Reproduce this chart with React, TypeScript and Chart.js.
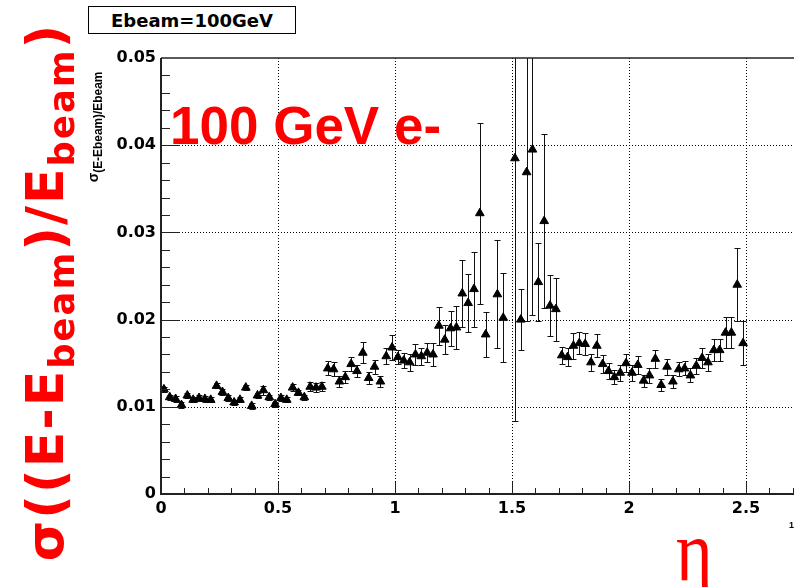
import React, { useEffect, useRef } from 'react';
import { Chart, registerables } from 'chart.js';

Chart.register(...registerables);

// eta bin centres
const ETA: number[] = [
  0.0125, 0.0375, 0.0625, 0.0875, 0.1125, 0.1375, 0.1625, 0.1875, 0.2125, 0.2375,
  0.2625, 0.2875, 0.3125, 0.3375, 0.3625, 0.3875, 0.4125, 0.4375, 0.4625, 0.4875,
  0.5125, 0.5375, 0.5625, 0.5875, 0.6125, 0.6375, 0.6625, 0.6875, 0.7125, 0.7375,
  0.7625, 0.7875, 0.8125, 0.8375, 0.8625, 0.8875, 0.9125, 0.9375, 0.9625, 0.9875,
  1.0125, 1.0375, 1.0625, 1.0875, 1.1125, 1.1375, 1.1625, 1.1875, 1.2125, 1.2375,
  1.2625, 1.2875, 1.3125, 1.3375, 1.3625, 1.3875, 1.4125, 1.4375, 1.4625, 1.4875,
  1.5125, 1.5375, 1.5625, 1.5875, 1.6125, 1.6375, 1.6625, 1.6875, 1.7125, 1.7375,
  1.7625, 1.7875, 1.8125, 1.8375, 1.8625, 1.8875, 1.9125, 1.9375, 1.9625, 1.9875,
  2.0125, 2.0375, 2.0625, 2.0875, 2.1125, 2.1375, 2.1625, 2.1875, 2.2125, 2.2375,
  2.2625, 2.2875, 2.3125, 2.3375, 2.3625, 2.3875, 2.4125, 2.4375, 2.4625, 2.4875,
];

// sigma(E-Ebeam)/Ebeam per bin (null = empty bin)
const SIGMA: (number | null)[] = [
  0.0120, 0.0111, 0.0109, 0.0102, 0.0113, 0.0108, 0.0110, 0.0109, 0.0108, 0.0124,
  0.0117, 0.0110, 0.0105, 0.0108, 0.0122, 0.0101, 0.0113, 0.0119, 0.0111, 0.0103,
  0.0110, 0.0108, 0.0122, 0.0116, 0.0111, 0.0123, 0.0122, 0.0123, 0.0144, 0.0143,
  0.0129, 0.0134, 0.0149, 0.0141, 0.0162, 0.0133, 0.0146, 0.0129, 0.0158, 0.0168,
  0.0157, 0.0153, 0.0151, 0.0160, 0.0158, 0.0162, 0.0160, 0.0193, 0.0177, 0.0190,
  0.0191, 0.0230, 0.0219, 0.0235, 0.0322, 0.0183, null, 0.0229, 0.0202, null,
  0.0385, 0.0200, 0.0369, 0.0395, 0.0243, 0.0313, 0.0216, 0.0212, 0.0159, 0.0157,
  0.0170, 0.0173, 0.0172, 0.0151, 0.0170, 0.0149, 0.0141, 0.0134, 0.0139, 0.0150,
  0.0139, 0.0148, 0.0130, 0.0136, 0.0155, 0.0125, 0.0146, 0.0129, 0.0143, 0.0144,
  0.0136, 0.0147, 0.0156, 0.0151, 0.0165, 0.0165, 0.0185, 0.0185, 0.0240, 0.0173,
];

// statistical error on each bin
const SIGMA_ERR: (number | null)[] = [
  0.0003, 0.0003, 0.0003, 0.0003, 0.0003, 0.0003, 0.0003, 0.0003, 0.0003, 0.0003,
  0.0003, 0.0003, 0.0003, 0.0003, 0.0003, 0.0003, 0.0003, 0.0005, 0.0003, 0.0003,
  0.0003, 0.0003, 0.0004, 0.0003, 0.0003, 0.0005, 0.0005, 0.0005, 0.0008, 0.0008,
  0.0006, 0.0007, 0.0008, 0.0007, 0.0012, 0.0007, 0.0008, 0.0006, 0.0009, 0.0014,
  0.0008, 0.0009, 0.0010, 0.0012, 0.0010, 0.0011, 0.0013, 0.0022, 0.0017, 0.0020,
  0.0025, 0.0038, 0.0033, 0.0043, 0.0104, 0.0026, null, 0.0062, 0.0051, null,
  0.0301, 0.0035, 0.0171, 0.0190, 0.0045, 0.0100, 0.0035, 0.0036, 0.0010, 0.0010,
  0.0015, 0.0013, 0.0013, 0.0010, 0.0013, 0.0010, 0.0009, 0.0008, 0.0009, 0.0010,
  0.0009, 0.0010, 0.0007, 0.0009, 0.0010, 0.0007, 0.0009, 0.0008, 0.0008, 0.0008,
  0.0008, 0.0009, 0.0012, 0.0010, 0.0013, 0.0013, 0.0018, 0.0018, 0.0042, 0.0025,
];

const X_MIN = 0;
const X_MAX = 3;
const Y_MIN = 0;
const Y_MAX = 0.05;
const X_GRID = [0.5, 1, 1.5, 2, 2.5];
const Y_GRID = [0.01, 0.02, 0.03, 0.04];
const X_TICK_STEP = 0.5;
const Y_TICK_STEP = 0.01;
const X_MINOR_STEP = 0.1;
const Y_MINOR_STEP = 0.002;

const TICK_FONT = { family: '"DejaVu Sans", sans-serif', weight: 'bold' as const, size: 16 };

const rootPlugin = {
  id: 'rootStyle',
  beforeDatasetsDraw(chart: any) {
    const { ctx, chartArea: a, scales } = chart;
    const x = scales.x;
    const y = scales.y;
    ctx.save();
    // dotted grid
    ctx.strokeStyle = '#000';
    ctx.lineWidth = 1;
    ctx.setLineDash([1, 2]);
    ctx.beginPath();
    for (const v of X_GRID) {
      const px = Math.round(x.getPixelForValue(v)) + 0.5;
      ctx.moveTo(px, a.top);
      ctx.lineTo(px, a.bottom);
    }
    for (const v of Y_GRID) {
      const py = Math.round(y.getPixelForValue(v)) + 0.5;
      ctx.moveTo(a.left, py);
      ctx.lineTo(a.right, py);
    }
    ctx.stroke();
    ctx.setLineDash([]);
    // error bars
    ctx.beginPath();
    ctx.rect(a.left, a.top, a.right - a.left, a.bottom - a.top);
    ctx.clip();
    ctx.strokeStyle = '#111';
    ctx.lineWidth = 1;
    ctx.beginPath();
    for (let i = 0; i < ETA.length; i++) {
      const v = SIGMA[i];
      const e = SIGMA_ERR[i];
      if (v == null || e == null) continue;
      const px = Math.round(x.getPixelForValue(ETA[i])) + 0.5;
      const t = Math.round(y.getPixelForValue(v + e)) + 0.5;
      const b = Math.round(y.getPixelForValue(v - e)) + 0.5;
      ctx.moveTo(px, t);
      ctx.lineTo(px, b);
      ctx.moveTo(px - 3, t);
      ctx.lineTo(px + 3, t);
      ctx.moveTo(px - 3, b);
      ctx.lineTo(px + 3, b);
    }
    ctx.stroke();
    ctx.restore();
  },
  afterDatasetsDraw(chart: any) {
    const { ctx, chartArea: a, scales } = chart;
    const x = scales.x;
    const y = scales.y;
    ctx.save();
    ctx.strokeStyle = '#222';
    ctx.lineWidth = 1;
    ctx.beginPath();
    const nx = Math.round((X_MAX - X_MIN) / X_MINOR_STEP);
    for (let k = 1; k <= nx; k++) {
      const v = X_MIN + k * X_MINOR_STEP;
      const major = Math.abs(v / X_TICK_STEP - Math.round(v / X_TICK_STEP)) < 1e-6;
      const px = Math.round(x.getPixelForValue(v)) + 0.5;
      ctx.moveTo(px, a.bottom);
      ctx.lineTo(px, a.bottom - (major ? 12 : 6));
    }
    const ny = Math.round((Y_MAX - Y_MIN) / Y_MINOR_STEP);
    for (let k = 1; k < ny; k++) {
      const v = Y_MIN + k * Y_MINOR_STEP;
      const major = Math.abs(v / Y_TICK_STEP - Math.round(v / Y_TICK_STEP)) < 1e-6;
      const py = Math.round(y.getPixelForValue(v)) + 0.5;
      ctx.moveTo(a.left, py);
      ctx.lineTo(a.left + (major ? 19 : 9), py);
    }
    ctx.stroke();
    // frame
    ctx.lineWidth = 2;
    ctx.beginPath();
    ctx.moveTo(a.left, a.top);
    ctx.lineTo(a.left, a.bottom);
    ctx.lineTo(a.right, a.bottom);
    ctx.stroke();
    ctx.lineWidth = 1.5;
    ctx.beginPath();
    ctx.moveTo(a.left, a.top);
    ctx.lineTo(a.right, a.top);
    ctx.stroke();
    ctx.restore();
  },
};

export default function App() {
  const ref = useRef<HTMLCanvasElement | null>(null);

  useEffect(() => {
    if (!ref.current) return;
    const points = ETA.map((e, i) => ({ x: e, y: SIGMA[i] })).filter((p) => p.y != null);
    const chart = new Chart(ref.current, {
      type: 'scatter',
      data: {
        datasets: [
          {
            data: points as any,
            pointStyle: 'triangle',
            pointRadius: 5,
            backgroundColor: '#000',
            borderColor: '#000',
            borderWidth: 1,
            showLine: false,
          },
        ],
      },
      options: {
        animation: false,
        responsive: false,
        devicePixelRatio: 1,
        layout: { padding: { left: 0, top: 58, right: 37, bottom: 0 } },
        plugins: {
          legend: { display: false },
          tooltip: { enabled: false },
          title: { display: false },
        },
        scales: {
          x: {
            type: 'linear',
            min: X_MIN,
            max: X_MAX,
            afterFit: (s: any) => {
              s.height = 93;
            },
            grid: { display: false, drawTicks: false },
            border: { display: false },
            ticks: {
              stepSize: X_TICK_STEP,
              autoSkip: false,
              maxRotation: 0,
              padding: 5,
              color: '#000',
              font: TICK_FONT,
              callback: (v: any) => String(Number(v)),
            },
          },
          y: {
            type: 'linear',
            min: Y_MIN,
            max: Y_MAX,
            afterFit: (s: any) => {
              s.width = 161;
            },
            grid: { display: false, drawTicks: false },
            border: { display: false },
            ticks: {
              stepSize: Y_TICK_STEP,
              autoSkip: false,
              padding: 5,
              color: '#000',
              font: TICK_FONT,
              callback: (v: any) => (Number(v) === 0 ? '0' : Number(v).toFixed(2)),
            },
          },
        },
      },
      plugins: [rootPlugin],
    });
    return () => chart.destroy();
  }, []);

  const sub: React.CSSProperties = { fontSize: '0.68em', verticalAlign: '-0.32em', lineHeight: 0 };
  const smallSub: React.CSSProperties = { fontSize: '0.85em', verticalAlign: '-0.3em', lineHeight: 0 };

  return (
    <div
      style={{
        position: 'fixed',
        left: 0,
        top: 0,
        width: 794,
        height: 587,
        overflow: 'hidden',
        background: '#fff',
      }}
    >
      <canvas ref={ref} width={900} height={587} style={{ position: 'absolute', left: 0, top: 0 }} />
      <div
        style={{
          position: 'absolute',
          left: 88,
          top: 6,
          width: 208,
          height: 28,
          boxSizing: 'border-box',
          border: '1.3px solid #000',
          background: '#fff',
          textAlign: 'center',
          font: 'bold 18px "DejaVu Sans", sans-serif',
          lineHeight: '28px',
          color: '#000',
        }}
      >
        Ebeam=100GeV
      </div>
      <div
        style={{
          position: 'absolute',
          left: 170,
          top: 99,
          whiteSpace: 'nowrap',
          color: '#ff0000',
          font: 'bold 53px "Liberation Sans", sans-serif',
          lineHeight: '53px',
        }}
      >
        100 GeV e-
      </div>
      <div
        style={{
          position: 'absolute',
          left: 45,
          top: 292,
          transform: 'translate(-50%, -50%) rotate(-90deg)',
          whiteSpace: 'nowrap',
          color: '#ff0000',
          font: 'bold 52px "DejaVu Sans", sans-serif',
          letterSpacing: '2px',
          lineHeight: '52px',
        }}
      >
        σ((E-E<span style={sub}>beam</span>)/E<span style={sub}>beam</span>)
      </div>
      <div
        style={{
          position: 'absolute',
          left: 93,
          top: 127,
          transform: 'translate(-50%, -50%) rotate(-90deg)',
          whiteSpace: 'nowrap',
          color: '#000',
          font: 'bold 14px "Liberation Sans", sans-serif',
          lineHeight: '16px',
        }}
      >
        σ<span style={smallSub}>(E-Ebeam)/Ebeam</span>
      </div>
      <div
        style={{
          position: 'absolute',
          left: 676,
          top: 507,
          whiteSpace: 'nowrap',
          color: '#ff0000',
          font: '70px "Liberation Serif", serif',
          lineHeight: '70px',
          transform: 'scaleY(1.25)',
          transformOrigin: 'top left',
        }}
      >
        η
      </div>
      <div
        style={{
          position: 'absolute',
          left: 789,
          top: 520,
          color: '#000',
          font: 'bold 9px "Liberation Sans", sans-serif',
          lineHeight: '10px',
        }}
      >
        1
      </div>
    </div>
  );
}
